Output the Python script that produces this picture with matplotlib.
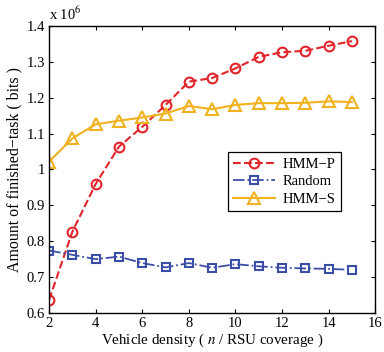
import numpy as np
import matplotlib
matplotlib.use('Agg')
import matplotlib.pyplot as plt

# Data (finished-task amount, in units of 1e6 bits)
density = [2, 3, 4, 5, 6, 7, 8, 9, 10, 11, 12, 13, 14, 15]
hmm_p = [0.637, 0.827, 0.960, 1.064, 1.119, 1.180, 1.245, 1.255, 1.282,
         1.314, 1.327, 1.331, 1.345, 1.358]
random_sel = [0.774, 0.762, 0.750, 0.757, 0.739, 0.727, 0.739, 0.726, 0.736,
              0.730, 0.726, 0.724, 0.723, 0.720]
hmm_s = [1.022, 1.087, 1.126, 1.136, 1.145, 1.156, 1.177, 1.168, 1.180,
         1.185, 1.185, 1.186, 1.190, 1.188]

xticks = [2, 4, 6, 8, 10, 12, 14, 16]
yticks = [0.6, 0.7, 0.8, 0.9, 1.0, 1.1, 1.2, 1.3, 1.4]
ytick_labels = ['0.6', '0.7', '0.8', '0.9', '1', '1.1', '1.2', '1.3', '1.4']

plt.rcParams['font.family'] = ['Liberation Serif', 'DejaVu Serif']
plt.rcParams['mathtext.fontset'] = 'stix'
plt.rcParams['font.size'] = 9.5

fig = plt.figure(figsize=(3.84, 3.52), dpi=100)
ax = fig.add_axes([0.128, 0.111, 0.849, 0.815])

red = '#e2242b'
blue = '#3b4ea6'
yellow = '#f0b21e'

ax.plot(density, hmm_p, '--', color=red, marker='o', markersize=7,
        markerfacecolor='none', markeredgewidth=1.5, linewidth=1.5, label='HMM\u2212P')
ax.plot(density, random_sel, '-.', color=blue, marker='s', markersize=5.5,
        markerfacecolor='none', markeredgewidth=1.5, linewidth=1.3, label='Random')
ax.plot(density, hmm_s, '-', color=yellow, marker='^', markersize=8,
        markerfacecolor='none', markeredgewidth=1.5, linewidth=1.5, label='HMM\u2212S')

ax.set_xlim(2, 16)
ax.set_ylim(0.6, 1.4)
ax.set_xticks(xticks)
ax.set_yticks(yticks)
ax.set_yticklabels(ytick_labels)
ax.tick_params(direction='in', top=True, right=True, length=3, width=0.8,
               labelsize=10.5, pad=3)
for s in ax.spines.values():
    s.set_linewidth(1.0)

ax.set_xlabel('Vehicle density ( $n$ / RSU coverage )', fontsize=10.8, labelpad=1)
ax.set_ylabel('Amount of finished\u2212task ( bits )', fontsize=11.4, labelpad=3)
ax.text(0.0, 1.012, 'x 10$^6$', transform=ax.transAxes, fontsize=10.5,
        ha='left', va='bottom')

leg = ax.legend(loc='upper right', bbox_to_anchor=(0.917, 0.585), fancybox=False,
                edgecolor='black', framealpha=1, fontsize=10.5, handlelength=2.9,
                borderpad=0.35, labelspacing=0.3, handletextpad=0.5)
leg.get_frame().set_linewidth(0.9)

fig.savefig('out.png', dpi=100)
